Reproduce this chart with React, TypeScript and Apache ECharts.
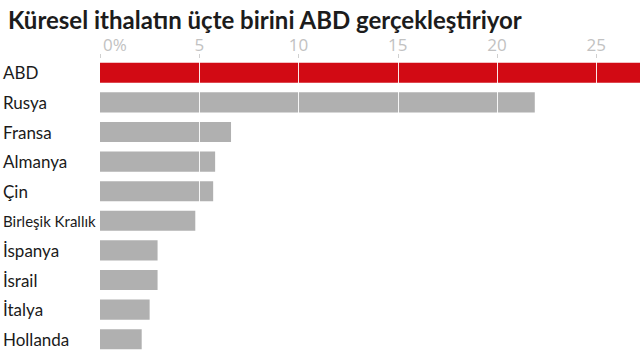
import React, { useEffect, useRef } from "react";
import * as echarts from "echarts";

const titleText = "Küresel ithalatın üçte birini ABD gerçekleştiriyor";
const countries = ["ABD", "Rusya", "Fransa", "Almanya", "Çin", "Birleşik Krallık", "İspanya", "İsrail", "İtalya", "Hollanda"];
const shares = [27.2, 21.9, 6.6, 5.8, 5.7, 4.8, 2.9, 2.9, 2.5, 2.1];
const gridTicks = [5, 10, 15, 20, 25];

export default function App() {
  const ref = useRef<HTMLDivElement>(null);
  useEffect(() => {
    if (!ref.current) return;
    const chart = echarts.init(ref.current, null, { renderer: "svg" });
    chart.setOption({
      animation: false,
      backgroundColor: "#ffffff",
      title: {
        text: titleText,
        left: 3,
        top: 2,
        textStyle: { fontFamily: "Lato", fontWeight: "bold", fontSize: 24, color: "#1c1c1c" },
      },
      grid: { left: 100, right: 0, top: 58, bottom: 6, containLabel: false },
      xAxis: {
        type: "value",
        position: "top",
        min: 0,
        max: 27.2,
        interval: 5,
        axisLine: { show: false },
        axisTick: { show: true, length: 4, lineStyle: { color: "#d0d0d0" } },
        splitLine: { show: false },
        axisLabel: {
          margin: 5,
          color: "#c2c2c2",
          fontFamily: "Open Sans",
          fontSize: 17,
          formatter: (v: number) => (v === 0 ? "{z|0%}" : String(v)),
          rich: { z: { fontFamily: "Open Sans", fontSize: 17, color: "#c2c2c2", padding: [0, 0, 0, 30] } },
          showMaxLabel: false,
        },
      },
      yAxis: {
        type: "category",
        inverse: true,
        data: countries,
        axisLine: { show: false },
        axisTick: { show: false },
        axisLabel: {
          align: "left",
          margin: 97,
          color: "#1a1a1a",
          fontFamily: "Lato",
          fontSize: 17,
          formatter: (v: string) => (v.length > 10 ? "{s|" + v + "}" : v),
          rich: { s: { fontFamily: "Lato", fontSize: 15, color: "#1a1a1a" } },
        },
      },
      series: [
        {
          type: "bar",
          data: shares,
          barCategoryGap: "32%",
          itemStyle: {
            color: (p: any) => (p.dataIndex === 0 ? "#d20a14" : "#b0b0b0"),
          },
          markLine: {
            silent: true,
            symbol: "none",
            label: { show: false },
            lineStyle: { color: "#ffffff", width: 1, type: "solid", opacity: 0.9 },
            data: gridTicks.map((t) => ({ xAxis: t })),
            z: 10,
          },
        },
      ],
    });
    return () => chart.dispose();
  }, []);
  return <div ref={ref} style={{ position: "fixed", left: 0, top: 0, width: 640, height: 360 }} />;
}
